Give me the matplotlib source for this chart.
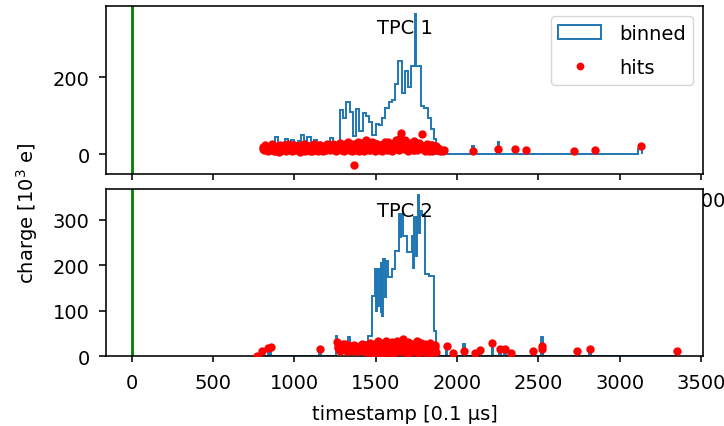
import matplotlib
matplotlib.use("Agg")
import matplotlib.pyplot as plt
from matplotlib.patches import Patch
from matplotlib.lines import Line2D

# ---------------- data ----------------
# TPC 1 binned charge (bin edges and summed charge per bin, 10^3 e)
tpc1_edges = [820, 840, 860, 880, 900, 920, 940, 960, 980, 1000, 1020, 1040, 1060, 1080,
              1100, 1120, 1140, 1160, 1180, 1200, 1220, 1240, 1260, 1280, 1300, 1320, 1340,
              1360, 1380, 1400, 1420, 1440, 1460, 1480, 1500, 1520, 1540, 1560, 1580, 1600,
              1620, 1640, 1660, 1680, 1700, 1720, 1740, 1750, 1760, 1780, 1800, 1820, 1840,
              1860, 1870, 2095, 2105, 2250, 2260, 2352, 2362, 2420, 2430, 2717, 2727, 2844,
              2854, 3115, 3135]
tpc1_binned = [28, 28, 22, 45, 30, 25, 40, 28, 38, 25, 35, 50, 35, 45, 25, 38, 25, 28, 25, 30,
               42, 32, 25, 115, 95, 135, 110, 48, 118, 60, 108, 100, 85, 50, 78, 75, 95, 120,
               135, 140, 182, 243, 160, 217, 175, 230, 364, 228, 228, 126, 120, 95, 65, 40, 0,
               22, 0, 31, 0, 15, 0, 10, 0, 8, 0, 11, 0, 14]

# TPC 1 individual hits
tpc1_hit_t = [805, 812, 820, 828, 836, 845, 852, 860, 868, 875, 884, 892, 900, 907, 915, 923,
              931, 940, 947, 955, 963, 971, 979, 987, 995, 1003, 1011, 1019, 1027, 1034, 1042,
              1050, 1058, 1066, 1074, 1082, 1090, 1098, 1106, 1114, 1122, 1130, 1138, 1146,
              1154, 1162, 1170, 1178, 1186, 1194, 1202, 1210, 1218, 1226, 1234, 1242, 1250,
              1258, 1266, 1274, 1282, 1290, 1298, 1306, 1314, 1322, 1330, 1338, 1346, 1354,
              1362, 1369, 1370, 1378, 1386, 1394, 1402, 1410, 1418, 1426, 1434, 1442, 1450,
              1458, 1466, 1474, 1482, 1490, 1498, 1506, 1514, 1522, 1530, 1538, 1546, 1554,
              1562, 1570, 1578, 1586, 1594, 1602, 1610, 1618, 1626, 1634, 1642, 1650, 1658,
              1664, 1672, 1680, 1688, 1696, 1704, 1712, 1720, 1728, 1736, 1744, 1752, 1760,
              1768, 1776, 1783, 1790, 1798, 1806, 1814, 1822, 1830, 1838, 1846, 1854, 1862,
              1870, 1878, 1886, 1894, 1905, 1912, 1920,
              2101, 2255, 2357, 2425, 2722, 2849, 3132,
              809, 824, 840, 856, 872, 888, 904, 919, 935, 951,
              967, 983, 999, 1015, 1031, 1046, 1062, 1078, 1094, 1110,
              1126, 1142, 1158, 1174, 1190, 1206, 1222, 1238, 1254, 1270,
              1286, 1302, 1318, 1334, 1350, 1366, 1382, 1398, 1414, 1430,
              1446, 1462, 1478, 1494, 1510, 1526, 1542, 1558, 1574, 1590,
              1606, 1622, 1638, 1654, 1670, 1686, 1702, 1718, 1734, 1750,
              1766, 1782, 1798, 1814, 1830, 1846, 1862, 1878, 1894]
tpc1_hit_q = [18, 10, 24, 14, 8, 20, 12, 26, 16, 9, 22, 13, 19, 7, 25, 15,
              11, 21, 9, 17, 27, 12, 20, 8, 23, 14, 10, 22, 16, 7, 25,
              13, 19, 9, 24, 15, 11, 21, 8, 18, 26, 12, 20, 9,
              23, 14, 17, 8, 22, 12, 27, 15, 10, 20, 24, 11, 18,
              8, 23, 14, 30, 12, 20, 9, 26, 16, 31, 11, 21, 8,
              27, -27, 15, 24, 10, 33, 18, 12, 25, 9, 20, 38, 14,
              27, 10, 22, 16, 30, 8, 19, 25, 12, 21, 9, 28, 15,
              20, 11, 33, 18, 24, 9, 30, 14, 36, 20, 11, 42, 55,
              25, 15, 38, 22, 9, 30, 17, 26, 12, 34, 20, 10, 28,
              16, 24, 52, 13, 22, 9, 27, 17, 12, 23, 8, 19, 14,
              21, 10, 17, 9, 12, 8, 10,
              9, 14, 15, 10, 8, 11, 22,
              14, 20, 11, 22, 15, 9, 21, 16, 25, 12,
              19, 24, 10, 17, 21, 13, 28, 18, 9, 22,
              16, 13, 24, 19, 10, 21, 15, 26, 12, 19,
              22, 10, 25, 14, 20, 12, 28, 9, 30, 16,
              22, 12, 33, 18, 26, 14, 23, 31, 16, 10,
              24, 28, 13, 30, 19, 27, 16, 22, 10, 25,
              30, 18, 15, 21, 9, 24, 13, 16, 12]

# TPC 2 binned charge
tpc2_edges = [796, 804, 836, 844, 850, 858, 1154, 1162, 1255, 1265, 1275, 1330, 1340, 1420,
              1455, 1478, 1497, 1503, 1508, 1514, 1520, 1530, 1535, 1541, 1547, 1560, 1566,
              1578, 1599, 1619, 1646, 1652, 1658, 1666, 1691, 1722, 1730, 1738, 1746, 1752,
              1763, 1769, 1775, 1783, 1804, 1830, 1859, 1871, 1933, 1941, 1974, 1982, 2040,
              2048, 2107, 2115, 2138, 2146, 2214, 2222, 2261, 2269, 2292, 2300, 2327, 2335,
              2466, 2474, 2519, 2527, 2737, 2745, 2815, 2823, 3348, 3356]
tpc2_binned = [10, 0, 17, 0, 17, 0, 15, 0, 45, 30, 20, 42, 18, 31,
               45, 133, 192, 100, 192, 110, 192, 95, 205, 89, 214, 130,
               210, 174, 192, 232, 313, 262, 313, 265, 229, 265, 195, 306, 220,
               306, 354, 270, 320, 310, 181, 177, 56, 0, 23, 0, 7, 0, 27,
               0, 6, 0, 13, 0, 28, 0, 15, 0, 15, 0, 6, 0,
               10, 0, 42, 0, 10, 0, 15, 0, 10]

# TPC 2 individual hits
tpc2_hit_t = [769, 800, 840, 855, 1158,
              1262, 1268, 1275, 1283, 1290, 1298, 1306, 1314, 1322, 1330, 1338, 1346, 1354,
              1362, 1370, 1378, 1386, 1394, 1402, 1410, 1418, 1426, 1434, 1442, 1450, 1458,
              1466, 1474, 1482, 1490, 1498, 1506, 1514, 1522, 1530, 1538, 1546, 1554, 1562,
              1570, 1578, 1586, 1594, 1602, 1610, 1618, 1626, 1634, 1642, 1650, 1658, 1666,
              1674, 1682, 1690, 1698, 1706, 1714, 1722, 1730, 1738, 1746, 1754, 1762, 1770,
              1778, 1786, 1794, 1802, 1810, 1818, 1826, 1834, 1842, 1850, 1858, 1866, 1874,
              1937, 1978, 2044, 2111, 2142, 2218, 2265, 2296, 2331, 2470, 2523, 2526, 2741,
              2819, 3352,
              1266, 1281, 1296, 1311, 1326, 1341, 1356, 1371, 1386, 1401,
              1416, 1431, 1446, 1461, 1476, 1491, 1506, 1521, 1536, 1551,
              1566, 1581, 1596, 1611, 1626, 1641, 1656, 1671, 1686, 1701,
              1716, 1731, 1746, 1761, 1776, 1791, 1806, 1821, 1836, 1851,
              1866]
tpc2_hit_q = [1, 10, 17, 20, 15,
              30, 18, 24, 12, 20, 27, 15, 22, 10, 25, 17, 21, 12,
              19, 24, 14, 20, 10, 22, 16, 26, 12, 20, 8, 24, 15,
              29, 11, 21, 6, 26, 16, 32, 10, 22, 5, 28, 14, 34,
              9, 20, 27, 12, 30, 6, 23, 15, 33, 10, 26, 18, 38,
              8, 24, 14, 31, 6, 21, 27, 11, 25, 16, 32, 7, 22,
              28, 12, 19, 26, 9, 23, 15, 28, 6, 20, 13, 24, 8,
              23, 7, 12, 6, 13, 28, 15, 15, 6, 10, 22, 15, 10,
              15, 10,
              22, 14, 19, 26, 12, 20, 16, 23, 11, 18,
              13, 25, 17, 9, 22, 14, 27, 8, 19, 24,
              13, 29, 7, 18, 24, 11, 28, 16, 22, 9,
              26, 14, 20, 30, 12, 23, 8, 21, 17, 11,
              19]

x_ticks = [0, 500, 1000, 1500, 2000, 2500, 3000, 3500]
tpc1_yticks = [0, 200]
tpc2_yticks = [0, 100, 200, 300]
panel_labels = ["TPC 1", "TPC 2"]

# ---------------- style ----------------
plt.rcParams.update({
    "font.family": ["DejaVu Sans"],
    "font.size": 14,
    "axes.linewidth": 1.15,
    "xtick.major.size": 4.0,
    "ytick.major.size": 4.8,
    "xtick.major.width": 1.15,
    "ytick.major.width": 1.15,
    "xtick.major.pad": 8.0,
    "ytick.major.pad": 7.0,
})

HIST_C = "#1f77b4"
MS = 6.0

fig = plt.figure(figsize=(7.24, 4.27), dpi=100)
ax1 = fig.add_axes([0.1464, 0.5902, 0.8246, 0.3934])
ax2 = fig.add_axes([0.1464, 0.1639, 0.8246, 0.3911])

panels = [
    (ax1, tpc1_edges, tpc1_binned, tpc1_hit_t, tpc1_hit_q, (-51, 385), tpc1_yticks),
    (ax2, tpc2_edges, tpc2_binned, tpc2_hit_t, tpc2_hit_q, (0, 368), tpc2_yticks),
]

for i, (ax, edges, binned, ht, hq, ylim, yt) in enumerate(panels):
    ax.hist(edges[:-1], bins=edges, weights=binned, histtype="step",
            color=HIST_C, lw=1.4, zorder=2)
    ax.plot(ht, hq, "o", color="red", ms=MS, mew=0, zorder=3)
    ax.axvline(0, color="green", lw=2.0, zorder=1)
    ax.text(0.5, 0.93, panel_labels[i], transform=ax.transAxes,
            ha="center", va="top", fontsize=14, zorder=4)
    ax.set_xlim(-158, 3513)
    ax.set_ylim(*ylim)
    ax.set_xticks(x_ticks)
    ax.set_yticks(yt)

handles = [Patch(facecolor="none", edgecolor=HIST_C, lw=1.4),
           Line2D([], [], ls="none", marker="o", color="red", ms=5.6, mew=0)]
ax1.legend(handles, ["binned", "hits"], loc="upper right", fontsize=14,
           labelspacing=0.8, handlelength=2.2, handletextpad=0.9)

ax2.set_xlabel("timestamp [0.1 μs]", labelpad=9)
fig.supylabel("charge [10$^3$ e]", fontsize=14)

fig.savefig("out.png", dpi=100)
